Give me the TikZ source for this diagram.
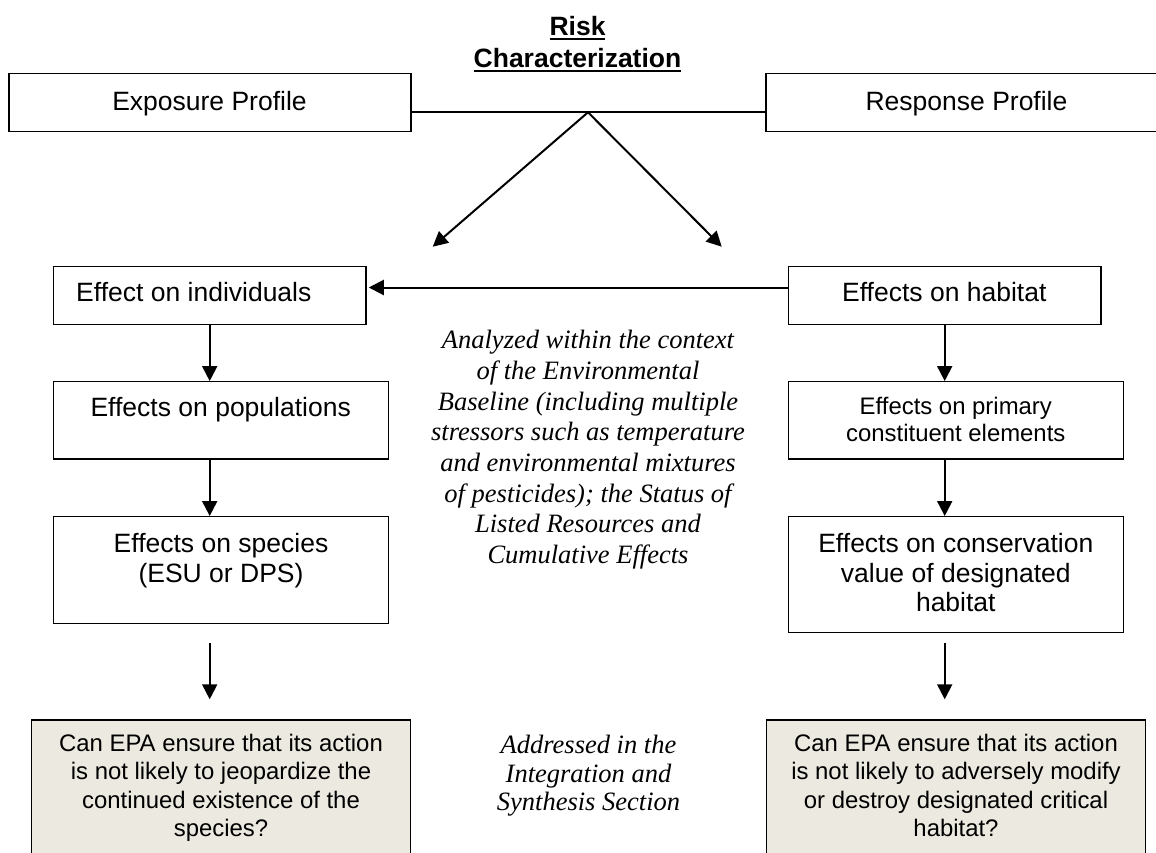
\documentclass[tikz,border=0pt]{standalone}
\usepackage{fontspec}
\setmainfont{Liberation Serif}
\setsansfont{Liberation Sans}
\usetikzlibrary{arrows.meta}
\definecolor{qfill}{RGB}{236,233,224}
\newcommand{\myul}[1]{\leavevmode\setbox0=\hbox{#1}\rlap{\rule[-5pt]{\wd0}{2.3pt}}\box0}
\newcommand{\myTitle}{\sffamily\bfseries\fontsize{26.5}{31.7}\selectfont}
\newcommand{\mySansL}{\sffamily\fontsize{26.5}{29.2}\selectfont}
\newcommand{\mySansS}{\sffamily\fontsize{23.9}{27.5}\selectfont}
\newcommand{\mySansQ}{\sffamily\fontsize{23.9}{28.1}\selectfont}
\newcommand{\mySerifA}{\rmfamily\itshape\fontsize{26.5}{30.7}\selectfont}
\newcommand{\mySerifB}{\rmfamily\itshape\fontsize{26.5}{28.3}\selectfont}
\begin{document}
\begin{tikzpicture}[x=1pt,y=-1pt,
  box/.style={draw, line width=1.4pt, inner sep=0pt, rectangle},
  qbox/.style={box, fill=qfill},
  txt/.style={inner sep=0pt, align=center},
  conn/.style={line width=2pt},
  arr/.style={line width=2pt, -{Triangle[length=15pt,width=15pt]}}
]
\useasboundingbox (0,0) rectangle (1156,852);
\clip (0,0) rectangle (1156,852);
\fill[white] (0,0) rectangle (1156,852);

% boxes
\node[box, minimum width=402pt, minimum height=58.2pt] (exp) at (210,102.4) {};
\node[box, minimum width=392pt, minimum height=58.2pt] (resp) at (962,102.4) {};
\node[box, minimum width=312.7pt, minimum height=58pt] (ind) at (209.7,295.3) {};
\node[box, minimum width=312.7pt, minimum height=58pt] (hab) at (944.7,295.3) {};
\node[box, minimum width=335pt, minimum height=77.3pt] (pop) at (220.8,420.4) {};
\node[box, minimum width=335pt, minimum height=77.3pt] (pri) at (955.8,420.4) {};
\node[box, minimum width=335pt, minimum height=106.6pt] (spc) at (220.8,570) {};
\node[box, minimum width=335pt, minimum height=116pt] (con) at (955.8,574.7) {};
\node[qbox, minimum width=379.2pt, minimum height=160pt] (q1) at (221,800) {};
\node[qbox, minimum width=379.5pt, minimum height=160pt] (q2) at (956,800) {};

% texts
\node[txt, anchor=north, font=\myTitle] (title) at (577.5,16) {\myul{Risk}\\\myul{Characterization}};
\node[txt, anchor=base, font=\mySansL] (expT) at (209.5,110) {Exposure Profile};
\node[txt, anchor=base, font=\mySansL] (respT) at (966.5,110) {Response Profile};
\node[txt, anchor=base west, font=\mySansL] (indT) at (76,301.7) {Effect on individuals};
\node[txt, anchor=base, font=\mySansL] (habT) at (944.3,301.7) {Effects on habitat};
\node[txt, anchor=base, font=\mySansL] (popT) at (220.7,416.7) {Effects on populations};
\node[txt, anchor=north, font=\mySansL] (spcT) at (221,533.4) {Effects on species\\(ESU or DPS)};
\node[txt, anchor=north, font=\mySansS] (priT) at (955.8,396.9) {Effects on primary\\constituent elements};
\node[txt, anchor=north, font=\mySansL] (conT) at (955.8,533.4) {Effects on conservation\\value of designated\\habitat};
\node[txt, anchor=north, font=\mySansQ] (q1T) at (221,734.3) {Can EPA ensure that its action\\is not likely to jeopardize the\\continued existence of the\\species?};
\node[txt, anchor=north, font=\mySansQ] (q2T) at (956,734.3) {Can EPA ensure that its action\\is not likely to adversely modify\\or destroy designated critical\\habitat?};
\node[txt, anchor=north, font=\mySerifA] (midT) at (588,330.2) {Analyzed within the context\\of the Environmental\\Baseline (including multiple\\stressors such as temperature\\and environmental mixtures\\of pesticides); the Status of\\Listed Resources and\\Cumulative Effects};
\node[txt, anchor=north, font=\mySerifB] (botT) at (588.5,735.2) {Addressed in the\\Integration and\\Synthesis Section};

% connectors
\coordinate (apex) at (588,112.3);
\coordinate (tipL) at (432.7,246.7);
\coordinate (tipR) at (721.7,246.7);
\coordinate (hl) at (0,287.5);
\draw[conn] (exp.east |- apex) -- (apex) -- (resp.west |- apex);
\draw[arr] (apex) -- (tipL);
\draw[arr] (apex) -- (tipR);
\draw[arr, shorten >=2pt] (hab.west |- hl) -- (ind.east |- hl);
\draw[arr] (ind.south) -- (ind.south |- pop.north);
\draw[arr] (ind.south |- pop.south) -- (ind.south |- spc.north);
\draw[arr, shorten <=19pt, shorten >=20pt] (ind.south |- spc.south) -- (ind.south |- q1.north);
\draw[arr] (hab.south) -- (hab.south |- pri.north);
\draw[arr] (hab.south |- pri.south) -- (hab.south |- con.north);
\draw[arr, shorten <=9.6pt, shorten >=20pt] (hab.south |- con.south) -- (hab.south |- q2.north);
\end{tikzpicture}
\end{document}
